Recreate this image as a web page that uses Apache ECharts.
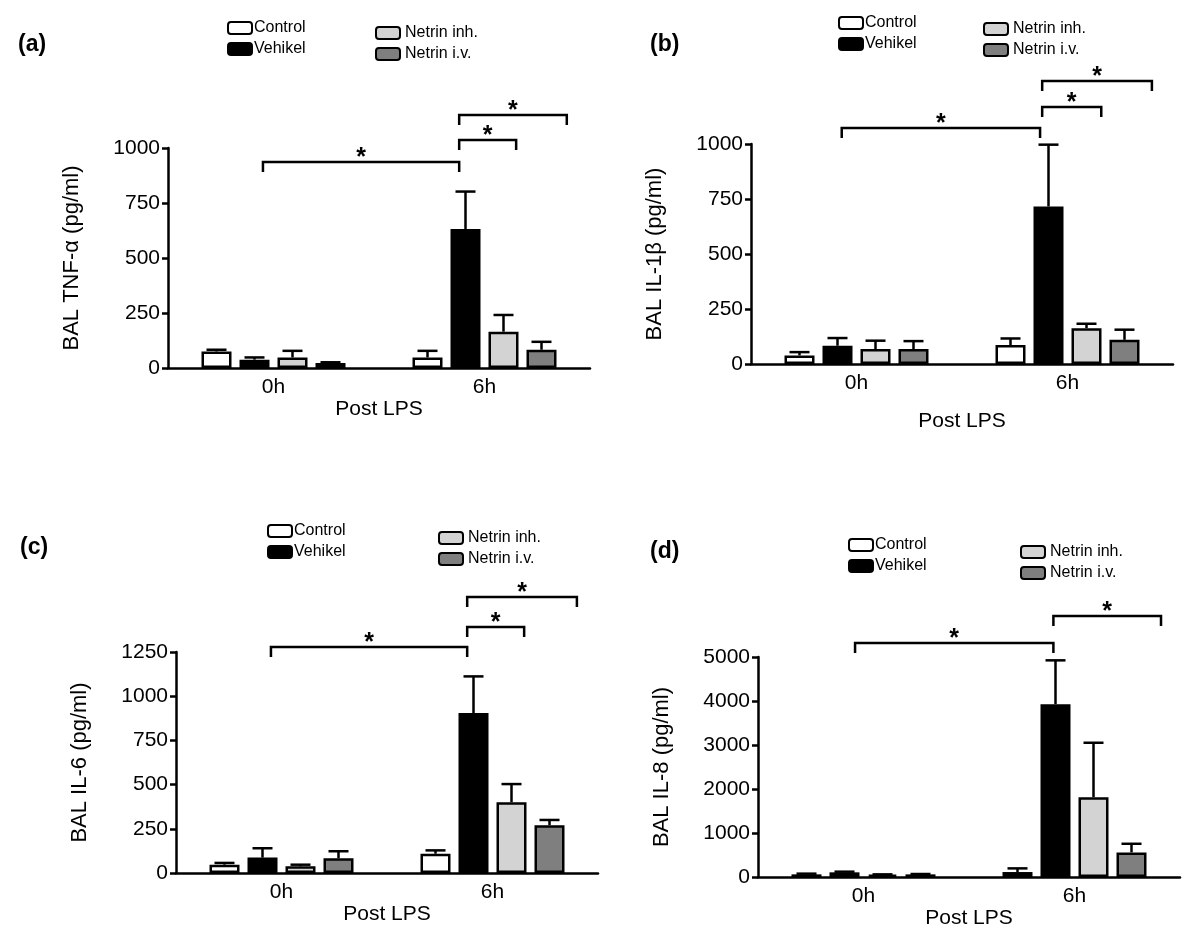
<!DOCTYPE html>
<html>
<head>
<meta charset="utf-8">
<script src="https://cdn.jsdelivr.net/npm/echarts@6/dist/echarts.min.js"></script>
<style>
  html, body { margin: 0; padding: 0; background: #fff; }
  #chart { width: 1200px; height: 942px; }
</style>
</head>
<body>
<div id="chart"></div>
<script>
// categories and groups
const timePoints = ['0h', '6h'];
const groupNames = ['Control', 'Vehikel', 'Netrin inh.', 'Netrin i.v.'];

// mean per group at [0h, 6h], and top of error bar (mean + SEM)
const tnfMean = [[75, 48], [38, 632], [48, 165], [23, 83]];
const tnfUpper = [[83, 78], [48, 802], [78, 241], [26, 119]];
const il1Mean = [[39, 86], [83, 716], [68, 163], [68, 110]];
const il1Upper = [[54, 116], [118, 997], [106, 183], [104, 156]];
const il6Mean = [[47, 109], [87, 905], [38, 400], [83, 270]];
const il6Upper = [[57, 128], [140, 1112], [47, 503], [123, 300]];
const il8Mean = [[60, 113], [106, 3927], [53, 1813], [60, 559]];
const il8Upper = [[76, 196], [121, 4924], [60, 3051], [68, 755]];

// significance brackets: [start, end] in category units (0 = 0h centre, 1 = 6h centre), height in axis units
const tnfBrackets = [[-0.05, 0.88, 936], [0.88, 1.15, 1036], [0.88, 1.39, 1150]];
const il1Brackets = [[-0.07, 0.87, 1073], [0.88, 1.16, 1168], [0.88, 1.40, 1286]];
const il6Brackets = [[-0.05, 0.88, 1278], [0.88, 1.15, 1391], [0.88, 1.40, 1561]];
const il8Brackets = [[-0.04, 0.90, 5318], [0.90, 1.41, 5932]];

const yTicks = {
  tnf: { max: 1000, interval: 250 },
  il1: { max: 1000, interval: 250 },
  il6: { max: 1250, interval: 250 },
  il8: { max: 5000, interval: 1000 }
};

const FONT = 'Liberation Sans, Arial, Helvetica, sans-serif';
const fills = ['#ffffff', '#000000', '#d3d3d3', '#7f7f7f'];
const BAR_W = 30;
const BAR_GAP = 8;
const STEP = BAR_W + BAR_GAP;

const panels = [
  { tag: '(a)', yName: 'BAL TNF-\u03b1 (pg/ml)', mean: tnfMean, upper: tnfUpper, brackets: tnfBrackets, ticks: yTicks.tnf,
    grid: { left: 168, top: 148, width: 422, height: 220 }, xNameGap: 31,
    tagPos: [18, 45], legendA: [222, 15], legendB: [370, 20] },
  { tag: '(b)', yName: 'BAL IL-1\u03b2 (pg/ml)', mean: il1Mean, upper: il1Upper, brackets: il1Brackets, ticks: yTicks.il1,
    grid: { left: 751, top: 144, width: 422, height: 220 }, xNameGap: 47,
    tagPos: [650, 45], legendA: [833, 10], legendB: [978, 16] },
  { tag: '(c)', yName: 'BAL IL-6 (pg/ml)', mean: il6Mean, upper: il6Upper, brackets: il6Brackets, ticks: yTicks.il6,
    grid: { left: 176, top: 652, width: 422, height: 221 }, xNameGap: 30,
    tagPos: [20, 548], legendA: [262, 518], legendB: [433, 525] },
  { tag: '(d)', yName: 'BAL IL-8 (pg/ml)', mean: il8Mean, upper: il8Upper, brackets: il8Brackets, ticks: yTicks.il8,
    grid: { left: 758, top: 657, width: 422, height: 220 }, xNameGap: 30,
    tagPos: [650, 552], legendA: [843, 532], legendB: [1015, 539] }
];

function renderError(params, api) {
  const cat = api.value(0);
  const s = api.value(3);
  const base = api.coord([cat, api.value(1)]);
  const top = api.coord([cat, api.value(2)]);
  const x = base[0] + (s - 1.5) * STEP;
  const st = { stroke: '#000', lineWidth: 2.5 };
  return {
    type: 'group',
    children: [
      { type: 'line', shape: { x1: x, y1: base[1], x2: x, y2: top[1] }, style: st },
      { type: 'line', shape: { x1: x - 10, y1: top[1], x2: x + 10, y2: top[1] }, style: st }
    ]
  };
}

function renderBracket(params, api) {
  const p = api.coord([0, api.value(1)]);
  const band = api.size([1, 0])[0];
  const x1 = p[0] + api.value(2) * band;
  const x2 = p[0] + api.value(3) * band;
  const y = p[1];
  return {
    type: 'group',
    children: [
      { type: 'polyline', shape: { points: [[x1, y + 10], [x1, y], [x2, y], [x2, y + 10]] },
        style: { stroke: '#000', lineWidth: 2.5, fill: null } },
      { type: 'text', style: { text: '*', x: (x1 + x2) / 2, y: y - 4, align: 'center', verticalAlign: 'middle',
        font: 'bold 25px ' + FONT, fill: '#000' } }
    ]
  };
}

const option = {
  backgroundColor: '#fff',
  animation: false,
  grid: [],
  xAxis: [],
  yAxis: [],
  legend: [],
  series: [],
  graphic: []
};

panels.forEach((p, i) => {
  option.grid.push(p.grid);
  option.xAxis.push({
    gridIndex: i,
    type: 'category',
    data: timePoints,
    name: 'Post LPS',
    nameLocation: 'middle',
    nameGap: p.xNameGap,
    nameTextStyle: { fontSize: 21, color: '#000', fontFamily: FONT },
    axisLine: { lineStyle: { color: '#000', width: 2.5 } },
    axisTick: { show: false },
    axisLabel: { fontSize: 21, color: '#000', fontFamily: FONT, margin: 9 }
  });
  option.yAxis.push({
    gridIndex: i,
    type: 'value',
    min: 0,
    max: p.ticks.max,
    interval: p.ticks.interval,
    name: p.yName,
    nameLocation: 'middle',
    nameGap: 85,
    nameTextStyle: { fontSize: 22, color: '#000', fontFamily: FONT },
    axisLine: { show: true, lineStyle: { color: '#000', width: 2.5 } },
    axisTick: { show: true, length: 6, lineStyle: { color: '#000', width: 2.5 } },
    axisLabel: { fontSize: 21, color: '#000', fontFamily: FONT, margin: 8, formatter: v => String(v) },
    splitLine: { show: false }
  });

  groupNames.forEach((g, s) => {
    option.series.push({
      name: g,
      type: 'bar',
      xAxisIndex: i,
      yAxisIndex: i,
      barWidth: BAR_W,
      barGap: (BAR_GAP / BAR_W * 100) + '%',
      data: p.mean[s],
      itemStyle: { color: fills[s], borderColor: '#000', borderWidth: 2.5 },
      emphasis: { disabled: true }
    });
  });

  const errData = [];
  groupNames.forEach((g, s) => {
    timePoints.forEach((t, c) => {
      errData.push([c, p.mean[s][c], p.upper[s][c], s]);
    });
  });
  option.series.push({
    type: 'custom',
    xAxisIndex: i,
    yAxisIndex: i,
    renderItem: renderError,
    encode: { x: 0, y: [1, 2] },
    data: errData,
    z: 3,
    silent: true
  });

  option.series.push({
    type: 'custom',
    xAxisIndex: i,
    yAxisIndex: i,
    renderItem: renderBracket,
    encode: { x: 0, y: 1 },
    data: p.brackets.map(b => [0, b[2], b[0], b[1]]),
    clip: false,
    z: 3,
    silent: true
  });

  const legendBase = {
    orient: 'vertical',
    icon: 'roundRect',
    itemWidth: 24,
    itemHeight: 12,
    itemGap: 5,
    selectedMode: false,
    itemStyle: { borderColor: '#000', borderWidth: 2 },
    textStyle: { fontSize: 16, color: '#000', fontFamily: FONT, lineHeight: 15, padding: [0, 0, 0, -3] }
  };
  option.legend.push(Object.assign({}, legendBase, { left: p.legendA[0], top: p.legendA[1], data: groupNames.slice(0, 2) }));
  option.legend.push(Object.assign({}, legendBase, { left: p.legendB[0], top: p.legendB[1], data: groupNames.slice(2, 4),
    textStyle: Object.assign({}, legendBase.textStyle, { padding: [0, 0, 0, 0] }) }));

  option.graphic.push({
    type: 'text',
    left: p.tagPos[0],
    top: p.tagPos[1] - 12,
    style: { text: p.tag, font: 'bold 23px ' + FONT, fill: '#000' }
  });
});

const myChart = echarts.init(document.getElementById('chart'));
myChart.setOption(option);
</script>
</body>
</html>
